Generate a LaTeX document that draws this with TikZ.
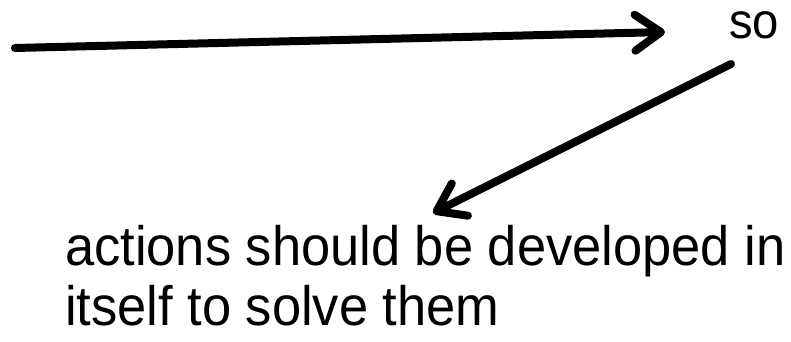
\documentclass[tikz,border=0pt]{standalone}
\usepackage{fontspec}
\setmainfont{Liberation Sans}
\newfontfamily\tallfont[FakeStretch=0.945]{Liberation Sans}
\usetikzlibrary{arrows.meta}
\begin{document}
\begin{tikzpicture}[x=1pt,y=-1pt,
  conn/.style={line width=8pt,line cap=round,-{Straight Barb[length=26pt,width=36pt,line cap=round,line join=round]}},
  big/.style={inner sep=0pt,font=\tallfont\fontsize{55.5}{60}\selectfont,anchor=base west},
  small/.style={inner sep=0pt,font=\tallfont\fontsize{50}{60}\selectfont,anchor=base west}]
\useasboundingbox (0,0) rectangle (791,341);
\coordinate (a1s) at (15,48);
\coordinate (a1e) at (665,32);
\node[small] (so) at (729,38) {so};
\coordinate (a2s) at (731,64);
\coordinate (a2e) at (433,213);
\node[big] (l1) at (65,265) {actions should be developed in};
\node[big] (l2) at (65,325) {itself to solve them};
\draw[conn] (a1s) -- (a1e);
\draw[conn] (a2s) -- (a2e);
\end{tikzpicture}
\end{document}
